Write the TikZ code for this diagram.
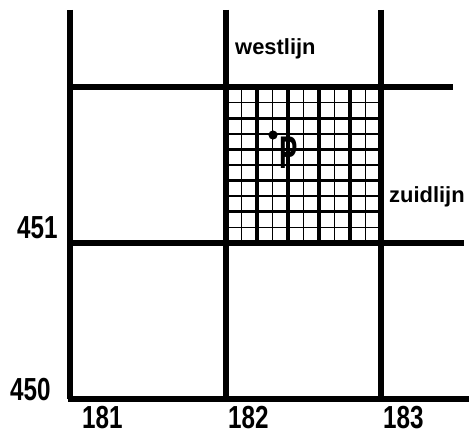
\documentclass[tikz,border=0pt]{standalone}
\usepackage{fontspec}
\setmainfont{Liberation Sans}
\usepackage{tikz}
\usetikzlibrary{positioning}

\newcommand{\gridnum}[1]{\scalebox{0.76}[1]{\fontsize{32}{32}\bfseries\selectfont #1}}

\begin{document}
\begin{tikzpicture}[x=1bp, y=-1bp,
    mainline/.style={line width=5.2pt},
    blockline/.style={line width=3.4pt},
    fineline/.style={line width=1.6pt},
    coordlabel/.style={inner sep=0pt, anchor=base west},
    linelabel/.style={inner sep=0pt, anchor=base west, font=\fontsize{22}{22}\bfseries\selectfont}]
    \useasboundingbox (0,0) rectangle (470,434);
    % --- fine grid in the kilometre square (182,451) ---
    \foreach \i in {1,3,...,9} {
      \draw[fineline] (226+15.5*\i,87) -- (226+15.5*\i,243);
      \draw[fineline] (226,87+15.6*\i) -- (381,87+15.6*\i);
    }
    \foreach \i in {1,...,4} {
      \draw[blockline] (226+31*\i,87) -- (226+31*\i,243);
      \draw[blockline] (226,87+31.2*\i) -- (381,87+31.2*\i);
    }
    % --- kilometre lines ---
    \draw[mainline] (70,10) -- (70,399);
    \draw[mainline] (226,10) -- (226,399);
    \draw[mainline] (381,10) -- (381,399);
    \draw[mainline] (68,87) -- (453,87);
    \draw[mainline] (68,243) -- (464,243);
    \draw[mainline] (68,399) -- (469,399);
    % --- coordinates ---
    \node[coordlabel] (n451) at (17,238) {\gridnum{451}};
    \node[coordlabel] (n450) at (10,400) {\gridnum{450}};
    \node[coordlabel] (e181) at (82,428) {\gridnum{181}};
    \node[coordlabel] (e182) at (228,428) {\gridnum{182}};
    \node[coordlabel] (e183) at (383,428) {\gridnum{183}};
    % --- line names ---
    \node[linelabel] (west) at (235,55) {westlijn};
    \node[linelabel] (zuid) at (389,203) {zuidlijn};
    % --- point P ---
    \fill (273,135) circle (4.6pt);
    \node[coordlabel] (pnt) at (279,169)
      {\scalebox{0.6}[1]{\fontsize{46}{46}\bfseries\selectfont P}};
\end{tikzpicture}
\end{document}
